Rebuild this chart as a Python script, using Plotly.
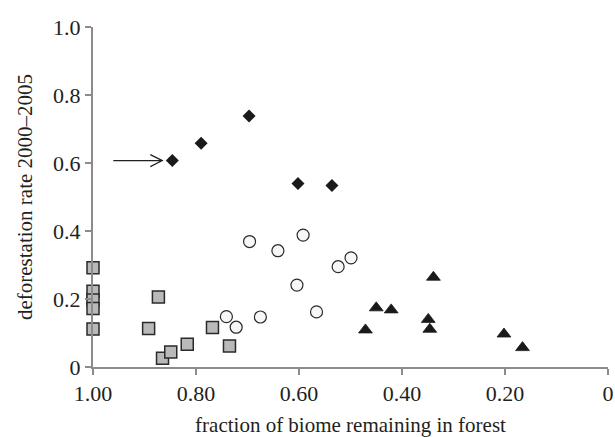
import plotly.graph_objects as go

# ---- data ----
square_x = [1.00, 1.00, 1.00, 1.00, 1.00, 0.873, 0.892, 0.865, 0.849, 0.817, 0.768, 0.735]
square_y = [0.292, 0.223, 0.197, 0.172, 0.112, 0.206, 0.113, 0.026, 0.044, 0.067, 0.116, 0.062]

circle_x = [0.696, 0.641, 0.592, 0.524, 0.499, 0.604, 0.566, 0.675, 0.741, 0.722]
circle_y = [0.369, 0.342, 0.388, 0.295, 0.321, 0.241, 0.162, 0.147, 0.148, 0.117]

tri_x = [0.450, 0.421, 0.471, 0.339, 0.349, 0.346, 0.202, 0.166]
tri_y = [0.174, 0.168, 0.109, 0.264, 0.140, 0.111, 0.097, 0.057]

diam_x = [0.846, 0.790, 0.697, 0.602, 0.536]
diam_y = [0.607, 0.658, 0.738, 0.540, 0.534]

x_tickvals = [1.0, 0.8, 0.6, 0.4, 0.2, 0.0]
x_ticktext = ["1.00", "0.80", "0.60", "0.40", "0.20", "0"]
y_tickvals = [0, 0.2, 0.4, 0.6, 0.8, 1.0]
y_ticktext = ["0", "0.2", "0.4", "0.6", "0.8", "1.0"]

FONT = "Liberation Serif"
TXT = "#231f20"
AXC = "#8c8c8c"

fig = go.Figure()
fig.add_trace(go.Scatter(x=square_x, y=square_y, mode="markers", cliponaxis=False,
                         marker=dict(symbol="square", size=12, color="#b9b9b9",
                                     line=dict(color="#2a2a2a", width=1.5))))
fig.add_trace(go.Scatter(x=circle_x, y=circle_y, mode="markers", cliponaxis=False,
                         marker=dict(symbol="circle", size=12, color="#f7f7f7",
                                     line=dict(color="#2a2a2a", width=1.2))))
fig.add_trace(go.Scatter(x=tri_x, y=tri_y, mode="markers", cliponaxis=False,
                         marker=dict(symbol="triangle-up", size=12, color="#1a1a1a",
                                     line=dict(color="#1a1a1a", width=0.8))))
fig.add_trace(go.Scatter(x=diam_x, y=diam_y, mode="markers", cliponaxis=False,
                         marker=dict(symbol="diamond", size=10, color="#1a1a1a",
                                     line=dict(width=0))))

# arrow pointing at the first diamond
fig.add_shape(type="path", xref="x", yref="y", xsizemode="pixel", ysizemode="pixel",
              xanchor=diam_x[0], yanchor=diam_y[0],
              path="M-59,0 L-10,0 M-22,6 L-10,0 L-22,-6",
              line=dict(color=TXT, width=1.2))

fig.update_layout(
    width=615, height=437,
    margin=dict(l=93, r=7, t=27, b=70),
    paper_bgcolor="white", plot_bgcolor="white",
    showlegend=False,
    font=dict(family=FONT, color=TXT, size=22),
    xaxis=dict(range=[1.0, 0.0], tickvals=x_tickvals, ticktext=x_ticktext,
               showgrid=False, zeroline=False, showline=True, linecolor=AXC, linewidth=2,
               ticks="outside", ticklen=6, tickwidth=2, tickcolor=AXC,
               ticklabeloverflow="allow", automargin=False,
               tickfont=dict(family=FONT, size=22, color=TXT),
               title=dict(text="fraction of biome remaining in forest",
                          font=dict(family=FONT, size=21, color=TXT), standoff=16)),
    yaxis=dict(range=[0, 1.0], tickvals=y_tickvals, ticktext=y_ticktext,
               showgrid=False, zeroline=False, showline=True, linecolor=AXC, linewidth=2,
               ticks="outside", ticklen=6, tickwidth=2, tickcolor=AXC,
               ticklabeloverflow="allow", automargin=False,
               tickfont=dict(family=FONT, size=22, color=TXT),
               title=dict(text="deforestation rate 2000–2005",
                          font=dict(family=FONT, size=21, color=TXT), standoff=15)),
)

fig.write_html("out.html", config={"displayModeBar": False},
               post_script="document.body.style.margin='0';")
